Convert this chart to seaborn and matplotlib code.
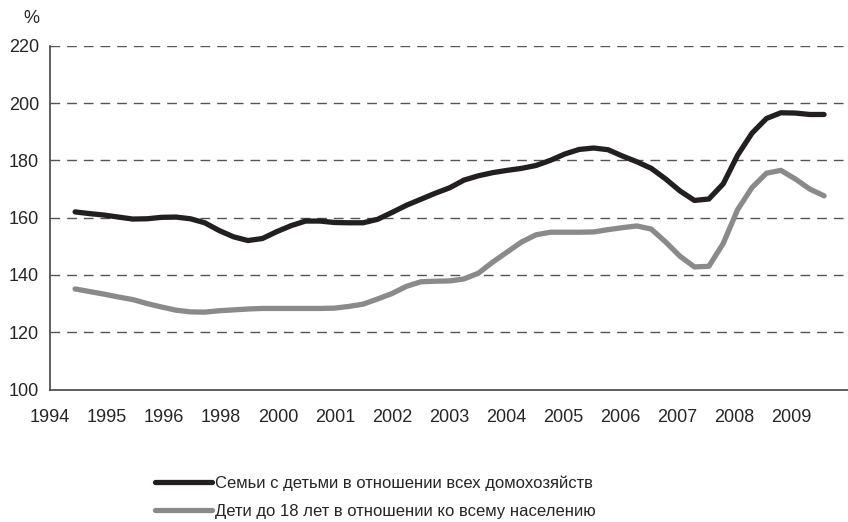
import matplotlib
matplotlib.use("Agg")
import matplotlib.pyplot as plt
import numpy as np
import pandas as pd
import seaborn as sns

# year labels as printed under the axis ticks
year_labels = ["1994", "1995", "1996", "1998", "2000", "2001", "2002",
               "2003", "2004", "2005", "2006", "2007", "2008", "2009"]

families = ["Семьи с детьми в отношении всех домохозяйств",
            "Дети до 18 лет в отношении ко всему населению"]

# values, roughly quarterly
families_hh = [162.0, 161.4, 160.9, 160.2, 159.5, 159.6, 160.1, 160.2, 159.6, 158.2,
               155.5, 153.3, 152.0, 152.7, 155.1, 157.2, 158.8, 158.8, 158.3, 158.2,
               158.2, 159.4, 161.8, 164.3, 166.4, 168.5, 170.4, 173.1, 174.6, 175.7,
               176.5, 177.2, 178.2, 180.0, 182.2, 183.8, 184.3, 183.7, 181.5, 179.5,
               177.2, 173.5, 169.3, 166.0, 166.5, 171.8, 181.8, 189.5, 194.6, 196.6,
               196.5, 196.0, 196.0]
children_pop = [135.1, 134.2, 133.3, 132.3, 131.4, 130.0, 128.8, 127.7, 127.1, 127.0,
                127.5, 127.8, 128.1, 128.3, 128.3, 128.3, 128.3, 128.3, 128.4, 129.0,
                129.8, 131.6, 133.5, 136.0, 137.6, 137.8, 137.9, 138.6, 140.6, 144.5,
                148.0, 151.5, 154.0, 154.9, 154.9, 154.9, 155.0, 155.8, 156.5, 157.1,
                156.0, 151.5, 146.5, 142.8, 143.0, 151.0, 162.8, 170.5, 175.5, 176.5,
                173.5, 170.0, 167.6]

pos = np.linspace(0.44, 13.58, len(families_hh))
df = pd.concat([
    pd.DataFrame({"x": pos, "value": families_hh, "series": families[0]}),
    pd.DataFrame({"x": pos, "value": children_pop, "series": families[1]}),
])

sns.set_style("white")
plt.rcParams["font.family"] = ["Liberation Sans", "DejaVu Sans"]

fig = plt.figure(figsize=(8.48, 5.22), dpi=100)
ax = fig.add_axes([0.059, 0.2538, 0.941, 0.6586])

sns.lineplot(data=df, x="x", y="value", hue="series", palette=["#231f20", "#8a8a8c"],
             linewidth=3.8, ax=ax, legend=True)

ax.set_yticks(range(100, 221, 20))
ax.tick_params(axis="y", labelsize=13, length=6, width=1, color="#444444", pad=2)

ax.set_xticks(range(len(year_labels)), year_labels)
ax.tick_params(axis="x", length=6, width=1, color="#444444", direction="out",
               labelsize=13, pad=8)
ax.set_xlim(0, 14)
ax.set_ylim(100, 220)
ax.set_xlabel("")
ax.set_ylabel("")

for y in range(120, 221, 20):
    ax.axhline(y, color="#555555", lw=1, ls=(0, (7, 5)), zorder=0)

for s in ["top", "right"]:
    ax.spines[s].set_visible(False)
ax.spines["left"].set_color("#444444")
ax.spines["bottom"].set_color("#444444")
ax.spines["left"].set_linewidth(1.2)
ax.spines["bottom"].set_linewidth(1.2)

fig.text(0.027, 0.965, "%", fontsize=13, ha="left", va="center")

ax.legend(loc="upper left", bbox_to_anchor=(0.1749, 0.102), bbox_transform=fig.transFigure,
          frameon=False, fontsize=12, handlelength=3.4, handletextpad=0.2,
          labelspacing=0.76, borderaxespad=0)

fig.savefig("out.png", dpi=100)
